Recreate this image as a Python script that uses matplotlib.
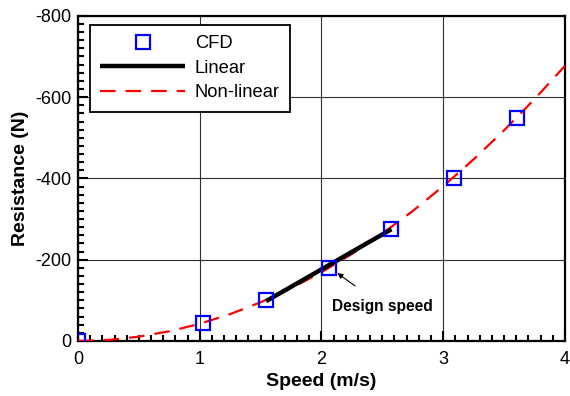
import matplotlib
matplotlib.use("Agg")
import matplotlib.pyplot as plt
from matplotlib.ticker import MultipleLocator

plt.rcParams['font.family'] = ['Liberation Sans', 'DejaVu Sans']
plt.rcParams['axes.unicode_minus'] = False

# CFD results
cfd_speed = [0.0, 1.03, 1.545, 2.06, 2.575, 3.09, 3.605]
cfd_resistance = [0, -45, -100, -180, -275, -400, -548]

# Linear fit around the design speed
linear_speed = [1.545, 2.575]
linear_resistance = [-98, -275]

# Non-linear (quadratic) fit
nonlin_speed = [0.0, 0.25, 0.5, 0.75, 1.0, 1.25, 1.5, 1.75, 2.0, 2.25,
                2.5, 2.75, 3.0, 3.25, 3.5, 3.75, 4.0]
nonlin_resistance = [0, -2.6, -10.6, -23.8, -42.3, -66.1, -95.2, -129.5,
                     -169.2, -214.1, -264.4, -319.9, -380.7, -446.8,
                     -518.2, -594.9, -676.8]

design_label = "Design speed"
design_point = (2.13, -167)
design_text = (2.09, -86)

fig = plt.figure(figsize=(5.7, 3.96), dpi=100)
ax = fig.add_axes([0.137, 0.139, 0.854, 0.821])

ax.grid(True, color='#303030', linewidth=0.8)
ax.set_axisbelow(True)

ax.plot(cfd_speed, cfd_resistance, linestyle='none', marker='s',
        markersize=9.5, markerfacecolor='none', markeredgecolor='#0000ff',
        markeredgewidth=1.6, label='CFD', zorder=5)
ax.plot(linear_speed, linear_resistance, color='black', linewidth=3.2,
        solid_capstyle='butt', label='Linear', zorder=4)
ax.plot(nonlin_speed, nonlin_resistance, color='#ff0000', linewidth=1.6,
        dashes=(7, 4.5), label='Non-linear', zorder=3)

ax.annotate(design_label, xy=design_point, xytext=design_text,
            fontsize=11.2, fontweight='bold', ha='left', va='center',
            arrowprops=dict(arrowstyle='-|>', color='black', lw=0.8,
                            mutation_scale=8, shrinkA=12, shrinkB=0))

ax.set_xlim(0, 4)
ax.set_ylim(0, -800)
ax.xaxis.set_major_locator(MultipleLocator(1))
ax.xaxis.set_minor_locator(MultipleLocator(0.1))
ax.yaxis.set_major_locator(MultipleLocator(200))
ax.yaxis.set_minor_locator(MultipleLocator(20))
ax.tick_params(which='both', direction='in', top=False, right=False,
               labelsize=13, width=1.5)
ax.tick_params(axis='x', which='both', pad=7)
ax.tick_params(axis='y', which='both', pad=5)
ax.tick_params(which='major', length=7.5)
ax.tick_params(which='minor', length=4)

for s in ax.spines.values():
    s.set_linewidth(1.6)

ax.set_xlabel('Speed (m/s)', fontsize=14, fontweight='bold', labelpad=4)
ax.set_ylabel('Resistance (N)', fontsize=14, fontweight='bold', labelpad=4)

leg = ax.legend(loc='upper left', bbox_to_anchor=(0.025, 0.972),
                borderaxespad=0, fontsize=13.2, handlelength=4.6,
                handletextpad=0.55, fancybox=False, framealpha=1,
                edgecolor='black', borderpad=0.55, labelspacing=0.42)
leg.get_frame().set_linewidth(1.3)

fig.savefig('out.png', dpi=100)
